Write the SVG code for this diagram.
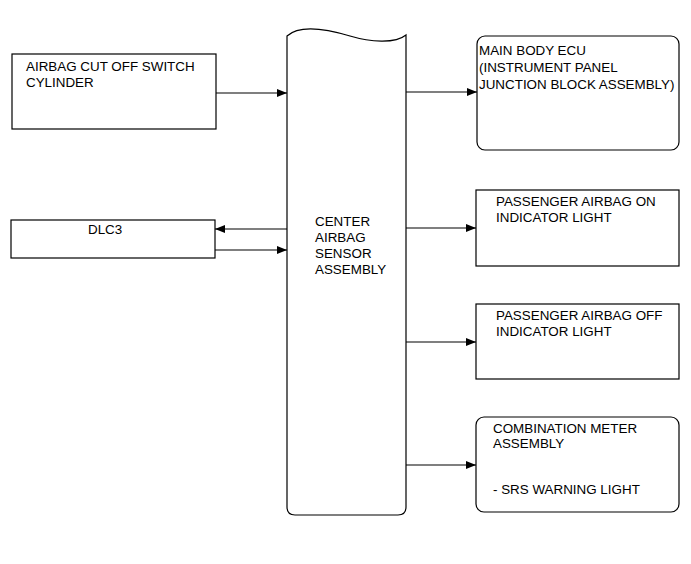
<svg xmlns="http://www.w3.org/2000/svg" width="691" height="564" viewBox="0 0 691 564">
<style>
.box{fill:#fff;stroke:#000;stroke-width:1.2}
.ln{stroke:#000;stroke-width:1.2;fill:none;marker-end:url(#ah)}
text{font-family:"Liberation Sans",Arial,sans-serif;font-size:13.4px;fill:#000}
</style>
<defs>
<marker id="ah" viewBox="0 0 10 8" refX="10" refY="4" markerWidth="10" markerHeight="8" markerUnits="userSpaceOnUse" orient="auto">
<path d="M0,0 L10,4 L0,8 z" fill="#000"/>
</marker>
</defs>
<rect width="691" height="564" fill="#fff"/>
<g id="center">
<path class="box" d="M287,36 C300,24 330,30 350,36 C370,42 395,44 406,35 L406,507 Q406,515 398,515 L295,515 Q287,515 287,507 Z"/>
<text x="315" y="226">CENTER</text>
<text x="315" y="242">AIRBAG</text>
<text x="315" y="258">SENSOR</text>
<text x="315" y="274">ASSEMBLY</text>
</g>
<g id="cutoff">
<rect class="box" x="12" y="54" width="204" height="75"/>
<text x="26" y="71">AIRBAG CUT OFF SWITCH</text>
<text x="26" y="87">CYLINDER</text>
</g>
<g id="dlc3">
<rect class="box" x="11" y="220" width="204" height="38"/>
<text x="88" y="234">DLC3</text>
</g>
<g id="mainbody">
<rect class="box" x="477" y="36" width="202" height="114" rx="8"/>
<text x="479" y="55">MAIN BODY ECU</text>
<text x="479" y="72">(INSTRUMENT PANEL</text>
<text x="479" y="89">JUNCTION BLOCK ASSEMBLY)</text>
</g>
<g id="paon">
<rect class="box" x="476" y="190" width="203" height="76"/>
<text x="496" y="206">PASSENGER AIRBAG ON</text>
<text x="496" y="222">INDICATOR LIGHT</text>
</g>
<g id="paoff">
<rect class="box" x="476" y="304" width="203" height="75"/>
<text x="496" y="320">PASSENGER AIRBAG OFF</text>
<text x="496" y="336">INDICATOR LIGHT</text>
</g>
<g id="combo">
<rect class="box" x="476" y="417" width="203" height="95" rx="8"/>
<text x="493" y="433">COMBINATION METER</text>
<text x="493" y="448">ASSEMBLY</text>
<text x="493" y="494">- SRS WARNING LIGHT</text>
</g>
<g id="connectors">
<line class="ln" x1="216" y1="93" x2="287" y2="93"/>
<line class="ln" x1="287" y1="229" x2="215" y2="229"/>
<line class="ln" x1="215" y1="250" x2="287" y2="250"/>
<line class="ln" x1="406" y1="92" x2="477" y2="92"/>
<line class="ln" x1="406" y1="228" x2="476" y2="228"/>
<line class="ln" x1="406" y1="342" x2="476" y2="342"/>
<line class="ln" x1="406" y1="465" x2="476" y2="465"/>
</g>
</svg>
